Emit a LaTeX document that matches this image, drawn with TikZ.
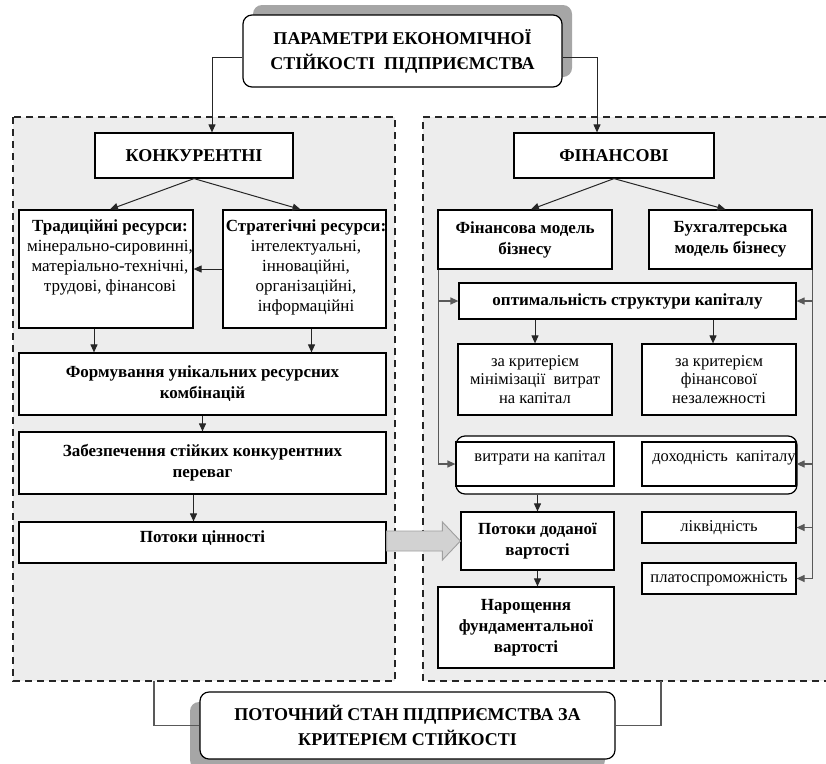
\documentclass[tikz,border=0pt]{standalone}
\usepackage{fontspec}
\setmainfont{Liberation Serif}
\usetikzlibrary{arrows.meta,calc,shadows}
\definecolor{panelc}{gray}{0.93}
\definecolor{linec}{gray}{0.15}
\definecolor{sidec}{gray}{0.35}
\begin{document}
\begin{tikzpicture}[x=1pt,y=-1pt,
  box/.style={draw=black, line width=1.2pt, fill=white, inner sep=0pt, align=center,
    font=\fontsize{17}{20}\selectfont},
  bbox/.style={box, font=\fontsize{17}{21}\selectfont\bfseries},
  hbox/.style={box, font=\fontsize{18}{25}\selectfont\bfseries},
  txt/.style={inner sep=0pt, align=center, font=\fontsize{17}{20}\selectfont},
  btxt/.style={txt, font=\fontsize{17}{21}\selectfont\bfseries},
  conn/.style={draw=linec, line width=1pt, -{Triangle[length=8pt,width=7pt]}},
  sconn/.style={draw=sidec, line width=1.2pt, -{Triangle[length=8pt,width=7pt]}},
  plain/.style={draw=sidec, line width=1.4pt},
  dashedline/.style={draw=black!85, line width=1.3pt, dash pattern=on 7pt off 5pt},
  bigarr/.style={fill=gray!35, draw=gray!75, line width=0.9pt}
]
\useasboundingbox (0,0) rectangle (826,763);

% panels
\fill[panelc] (13,117) rectangle (395,681);
\draw[dashedline] (13,117) rectangle (395,681);
\fill[panelc] (423,117) rectangle (826,681);
\draw[dashedline] (826,117) -- (423,117) -- (423,681) -- (826,681);

% title boxes
\node[hbox, rounded corners=9pt, minimum width=319pt, minimum height=72pt,
  drop shadow={shadow xshift=10pt, shadow yshift=10pt, fill=black!35, opacity=1}]
  (top) at (402.5,51) {ПАРАМЕТРИ ЕКОНОМІЧНОЇ\\СТІЙКОСТІ\ \ ПІДПРИЄМСТВА};
\node[hbox, rounded corners=9pt, minimum width=415pt, minimum height=67pt,
  drop shadow={shadow xshift=-10pt, shadow yshift=-10pt, fill=black!35, opacity=1}]
  (bot) at (407.5,725.5) {ПОТОЧНИЙ СТАН ПІДПРИЄМСТВА ЗА\\КРИТЕРІЄМ СТІЙКОСТІ};

% left panel
\node[hbox, minimum width=198pt, minimum height=45pt] (konk) at (194,155.5) {КОНКУРЕНТНІ};
\node[box, minimum width=174pt, minimum height=118pt] (trad) at (106,269) {};
\node[box, minimum width=163pt, minimum height=118pt] (strat) at (304.5,269) {};
\node[txt] (tradt) at (110,257) {\textbf{Традиційні ресурси:}\\мінерально-сировинні,\\матеріально-технічні,\\трудові, фінансові};
\node[txt] (stratt) at (306,267) {\textbf{Стратегічні ресурси:}\\інтелектуальні,\\інноваційні,\\організаційні,\\інформаційні};
\node[bbox, minimum width=367pt, minimum height=62pt] (form) at (202.5,384) {Формування унікальних ресурсних\\комбінацій};
\node[bbox, minimum width=367pt, minimum height=62pt] (zab) at (202.5,463) {Забезпечення стійких конкурентних\\переваг};
\node[box, minimum width=367pt, minimum height=41pt] (pot) at (202.5,542.5) {};
\node[btxt] (pott) at (202.5,538) {Потоки цінності};

% right panel
\node[hbox, minimum width=200pt, minimum height=45pt] (fin) at (614,155.5) {ФІНАНСОВІ};
\node[bbox, minimum width=174pt, minimum height=59pt] (fmod) at (525,239.5) {Фінансова модель\\бізнесу};
\node[bbox, minimum width=163pt, minimum height=59pt] (bmod) at (730.5,239.5) {Бухгалтерська\\модель бізнесу};
\node[bbox, minimum width=337pt, minimum height=36pt] (opt) at (627.5,301) {оптимальність структури капіталу};
\node[box, minimum width=154pt, minimum height=71pt, font=\fontsize{16.5}{18.5}\selectfont] (krit1) at (535,379.5) {за критерієм\\мінімізації\ \ витрат\\на капітал};
\node[box, minimum width=154pt, minimum height=71pt, font=\fontsize{16.5}{18.5}\selectfont] (krit2) at (719,379.5) {за критерієм\\фінансової\\незалежності};
\node[box, rounded corners=9pt, minimum width=341pt, minimum height=58pt] (grp) at (626.5,465) {};
\node[box, minimum width=158pt, minimum height=44pt] (vytr) at (535,464) {};
\node[box, minimum width=154pt, minimum height=44pt] (doh) at (719,464) {};
\node[txt, font=\fontsize{16.5}{20}\selectfont] (vytrt) at (540,458) {витрати на капітал};
\node[txt, font=\fontsize{16.5}{20}\selectfont] (doht) at (724,458) {доходність\ \ капіталу};
\node[bbox, minimum width=153pt, minimum height=58pt] (pdv) at (537.5,541) {Потоки доданої\\вартості};
\node[bbox, minimum width=176pt, minimum height=81pt] (nar) at (526,627.5) {Нарощення\\фундаментальної\\вартості};
\node[box, minimum width=154pt, minimum height=31pt, font=\fontsize{16.5}{20}\selectfont] (likv) at (719,527.5) {ліквідність};
\node[box, minimum width=154pt, minimum height=31pt, font=\fontsize{16.5}{20}\selectfont] (plat) at (719,578.5) {платоспроможність};

% connectors from title
\draw[conn] ([yshift=-6pt]top.west) -| ([xshift=18pt]konk.north);
\draw[conn] ([yshift=-6pt]top.east) -| ([xshift=-17pt]fin.north);

% left connectors
\draw[conn] (konk.south) -- ([xshift=4pt]trad.north);
\draw[conn] (konk.south) -- ([xshift=-4pt]strat.north);
\draw[conn] (strat.west) -- (trad.east);
\draw[conn] ([xshift=-12pt]trad.south) -- ([xshift=-12pt]trad.south |- form.north);
\draw[conn] ([xshift=7pt]strat.south) -- ([xshift=7pt]strat.south |- form.north);
\draw[conn] (form.south) -- (zab.north);
\draw[conn] ([xshift=-9pt]zab.south) -- ([xshift=-9pt]zab.south |- pot.north);

% big arrow
\draw[bigarr] ($(pot.east |- pdv.west)+(0,-10)$) -- ($(pdv.west)+(-18,-10)$)
  -- ($(pdv.west)+(-18,-19)$) -- (pdv.west) -- ($(pdv.west)+(-18,19)$)
  -- ($(pdv.west)+(-18,10)$) -- ($(pot.east |- pdv.west)+(0,10)$) -- cycle;

% right connectors
\draw[conn] (fin.south) -- ([xshift=6pt]fmod.north);
\draw[conn] (fin.south) -- ([xshift=-5pt]bmod.north);
\draw[sconn] ([xshift=1pt]fmod.south west) |- (vytr.west);
\draw[sconn] ([xshift=1pt]fmod.south west |- opt.west) -- (opt.west);
\draw[sconn] (bmod.south east) |- (plat.east);
\draw[sconn] (bmod.south east |- opt.east) -- (opt.east);
\draw[sconn] (bmod.south east |- doh.east) -- (doh.east);
\draw[sconn] (bmod.south east |- likv.east) -- (likv.east);
\draw[conn] (krit1.north |- opt.south) -- (krit1.north);
\draw[conn] ([xshift=-6pt]krit2.north |- opt.south) -- ([xshift=-6pt]krit2.north);
\draw[conn] (pdv.north |- grp.south) -- (pdv.north);
\draw[conn] (pdv.south) -- (pdv.south |- nar.north);

% bottom connectors
\coordinate (lb) at (154,681);
\coordinate (rb) at (661,681);
\draw[plain] (bot.west) -| (lb);
\draw[plain] (bot.east) -| (rb);
\end{tikzpicture}
\end{document}
